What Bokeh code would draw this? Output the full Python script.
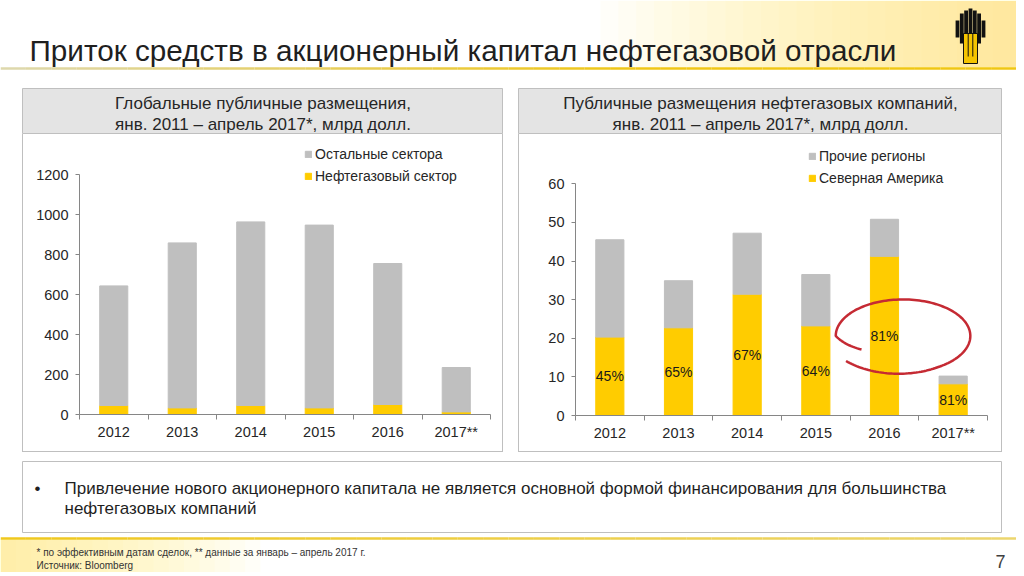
import numpy as np
from bokeh.plotting import figure
from bokeh.layouts import column, row
from bokeh.models import Range1d, FixedTicker, Legend, LegendItem, Spacer, ColumnDataSource
from bokeh.core.properties import value
from bokeh.embed import file_html
from bokeh.resources import INLINE

# ---------------- data ----------------
years = ["2012", "2013", "2014", "2015", "2016", "2017**"]

# Global public placements, bn USD
global_oil = [45, 33, 45, 33, 50, 13]
global_other = [598, 825, 918, 914, 705, 222]

# Oil & gas companies public placements, bn USD
og_north_america = [20.3, 22.7, 31.4, 23.2, 41.2, 8.2]
og_other_regions = [25.2, 12.2, 15.8, 13.3, 9.6, 2.0]
na_share_labels = ["45%", "65%", "67%", "64%", "81%", "81%"]

left_ticks = [0, 200, 400, 600, 800, 1000, 1200]
right_ticks = [0, 10, 20, 30, 40, 50, 60]

title_text = "Приток средств в акционерный капитал нефтегазовой отрасли"
left_title = ["Глобальные публичные размещения,", "янв. 2011 – апрель 2017*, млрд долл."]
right_title = ["Публичные размещения нефтегазовых компаний,", "янв. 2011 – апрель 2017*, млрд долл."]
left_legend = ["Остальные сектора", "Нефтегазовый сектор"]
right_legend = ["Прочие регионы", "Северная Америка"]
bullet_lines = ["Привлечение нового акционерного капитала не является основной формой финансирования для большинства",
                "нефтегазовых компаний"]
foot_lines = ["* по эффективным датам сделок, ** данные за январь – апрель 2017 г.", "Источник: Bloomberg"]
page_no = "7"

FONT = "Liberation Sans"
YELLOW = "#ffcc00"
GRAY = "#bfbfbf"
BORDER = "#bfbfbf"
AXIS = "#868686"
TXT = "#1f1f1f"
W = 1016


def blank(w, h):
    p = figure(width=w, height=h, x_range=Range1d(0, w), y_range=Range1d(h, 0),
               output_backend="svg", toolbar_location=None, min_border=0,
               x_axis_type=None, y_axis_type=None, outline_line_color=None,
               background_fill_color="white", border_fill_color="white")
    p.grid.visible = False
    return p


def vline(h):
    return Spacer(width=1, height=h, styles={"background-color": BORDER})


def hline(w):
    return Spacer(width=w, height=1, styles={"background-color": BORDER})


# ---------------- header ----------------
hdr = blank(W, 88)
xs = np.linspace(600, 1010, 24)
hdr.quad(left=xs, right=W, top=0, bottom=67, fill_color="#ffe27a", fill_alpha=0.045, line_color=None)
hdr.text(x=[29], y=[50], text=[title_text], text_font=value(FONT), text_font_size="29.7px",
         text_baseline="alphabetic", text_color=TXT)
seg = np.linspace(0, W, 41)
cols = []
for t in np.linspace(0, 1, 40):
    c0 = np.array([222, 216, 172]); c1 = np.array([240, 198, 20])
    c = (c0 + (c1 - c0) * min(1, t * 1.6)).astype(int)
    cols.append("#%02x%02x%02x" % tuple(c))
hdr.segment(x0=seg[:-1], x1=seg[1:], y0=68, y1=68, line_color=cols, line_width=2.5)
# logo (approximate)
bx = [957, 961.3, 965.6, 970, 974.3, 978.6, 983]
tops = [20, 13, 10, 8, 10, 13, 20]
bots = [37, 43, 47, 47, 47, 43, 37]
hdr.quad(left=[b - 1.9 for b in bx], right=[b + 1.9 for b in bx], top=tops, bottom=bots,
         fill_color="#111111", line_color=None)
hdr.quad(left=[963], right=[977], top=[33], bottom=[63], fill_color="#f5c400", line_color="#111111", line_width=1)
hdr.segment(x0=[967.7, 972.3], x1=[967.7, 972.3], y0=[33, 33], y1=[56, 56], line_color="#111111", line_width=1)


# ---------------- panel headers ----------------
def panel_header(w, lines):
    p = figure(width=w, height=46, x_range=Range1d(0, 1), y_range=Range1d(46, 0),
               output_backend="svg", toolbar_location=None, min_border=0,
               x_axis_type=None, y_axis_type=None, outline_line_color=BORDER,
               background_fill_color="#e4e4e4", border_fill_color="#e4e4e4")
    p.grid.visible = False
    p.text(x=[0.5, 0.5], y=[15, 36], text=lines, text_font=value(FONT), text_font_size="17px",
           text_align="center", text_baseline="middle", text_color="#262626")
    return p


# ---------------- charts ----------------
def chart(w, bottom_vals, top_vals, ymax, ticks, legend_labels, leg_loc, mb_left, mb_right, mb_bottom):
    centers = [i + 0.5 for i in range(len(years))]
    src = ColumnDataSource(dict(x=centers, bottom=bottom_vals, top=top_vals))
    p = figure(width=w, height=317, x_range=Range1d(0, len(years)), y_range=Range1d(0, ymax),
               output_backend="svg", toolbar_location=None,
               min_border_left=mb_left, min_border_right=mb_right, min_border_top=6,
               min_border_bottom=mb_bottom, outline_line_color=None,
               background_fill_color="white", border_fill_color="white")
    p.grid.visible = False
    rs = p.vbar_stack(["bottom", "top"], x="x", width=0.41, color=[YELLOW, GRAY], source=src)

    p.yaxis.ticker = FixedTicker(ticks=ticks)
    p.yaxis.bounds = (ticks[0], ticks[-1])
    p.yaxis.major_tick_in = 0
    p.yaxis.major_tick_out = 4
    p.yaxis.minor_tick_line_color = None
    p.yaxis.major_label_standoff = 7

    p.xaxis.ticker = FixedTicker(ticks=centers, minor_ticks=list(range(len(years) + 1)))
    p.xaxis.major_label_overrides = {c: y for c, y in zip(centers, years)}
    p.xaxis.major_tick_in = 0
    p.xaxis.major_tick_out = 0
    p.xaxis.minor_tick_in = 0
    p.xaxis.minor_tick_out = 5
    p.xaxis.minor_tick_line_color = AXIS
    p.xaxis.major_label_standoff = 4

    for ax in (p.xaxis[0], p.yaxis[0]):
        ax.axis_line_color = AXIS
        ax.major_tick_line_color = AXIS if ax is p.yaxis[0] else None
        ax.major_label_text_font = FONT
        ax.major_label_text_font_size = "14.5px"
        ax.major_label_text_color = "#262626"

    leg = Legend(items=[LegendItem(label=legend_labels[0], renderers=[rs[1]]),
                        LegendItem(label=legend_labels[1], renderers=[rs[0]])],
                 location=leg_loc, glyph_width=8, glyph_height=8, label_height=16, spacing=6,
                 padding=0, margin=0, label_standoff=3, border_line_color=None,
                 background_fill_alpha=0, label_text_font=FONT, label_text_font_size="14px",
                 label_text_color="#262626")
    p.add_layout(leg)
    return p, centers


chart_l, _ = chart(479, global_oil, global_other, 1370, left_ticks, left_legend,
                   (225, 230), 56, 12, 37)
chart_r, centers_r = chart(482, og_north_america, og_other_regions, 71.2, right_ticks, right_legend,
                           (233, 229), 56, 14, 36)

chart_r.text(x=centers_r, y=[v / 2 for v in og_north_america], text=na_share_labels,
             text_font=value(FONT), text_font_size="14px", text_align="center",
             text_baseline="middle", text_color="#1a1a1a")

# hand-drawn red ellipse around the 2016 label
cx = centers_r[4] + 0.27
cy = og_north_america[4] / 2
t = np.linspace(np.deg2rad(211), np.deg2rad(-141), 160)
r = np.interp(t, [np.deg2rad(-141), np.deg2rad(-60), np.deg2rad(180), np.deg2rad(211)], [1.09, 1.0, 1.0, 0.72])
chart_r.line(cx + 0.98 * r * np.cos(t), cy + 9.45 * r * np.sin(t), line_color="#c52a33", line_width=2.5)

panel_l = column(panel_header(481, left_title), row(vline(317), chart_l, vline(317)), hline(481))
panel_r = column(panel_header(484, right_title), row(vline(317), chart_r, vline(317)), hline(484))
mid = row(Spacer(width=22, height=364), panel_l, Spacer(width=15, height=364), panel_r,
          Spacer(width=W - 1002, height=364))

# ---------------- bullet box ----------------
box = figure(width=980, height=72, x_range=Range1d(0, 980), y_range=Range1d(72, 0),
             output_backend="svg", toolbar_location=None, min_border=0,
             x_axis_type=None, y_axis_type=None, outline_line_color=BORDER,
             background_fill_color="white", border_fill_color="white")
box.grid.visible = False
box.text(x=[12], y=[27], text=["•"], text_font=value(FONT), text_font_size="17px",
         text_baseline="middle", text_color=TXT)
box.text(x=[42, 42], y=[27, 47], text=bullet_lines, text_font=value(FONT), text_font_size="17px",
         text_baseline="middle", text_color=TXT)
box_row = row(Spacer(width=22, height=72), box, Spacer(width=W - 1002, height=72))

# ---------------- footer ----------------
ftr = blank(W, 39)
gx = np.linspace(0, 260, 18)
ftr.quad(left=0, right=gx[1:], top=6, bottom=39, fill_color="#ffe27a", fill_alpha=0.05, line_color=None)
seg2 = np.linspace(0, W, 41)
cols2 = []
for tt in np.linspace(0, 1, 40):
    c0 = np.array([240, 200, 30]); c1 = np.array([236, 214, 110])
    c = (c0 + (c1 - c0) * tt).astype(int)
    cols2.append("#%02x%02x%02x" % tuple(c))
ftr.segment(x0=seg2[:-1], x1=seg2[1:], y0=5, y1=5, line_color=cols2, line_width=2.5)
ftr.text(x=[36, 36], y=[19, 32], text=foot_lines, text_font=value(FONT), text_font_size="10px",
         text_baseline="middle", text_color="#333333")
ftr.text(x=[1000], y=[28], text=[page_no], text_font=value(FONT), text_font_size="18px",
         text_align="center", text_baseline="middle", text_color="#404040")

page = column(hdr, mid, Spacer(width=W, height=9), box_row, ftr)

open("out.html", "w").write(file_html(page, INLINE))
